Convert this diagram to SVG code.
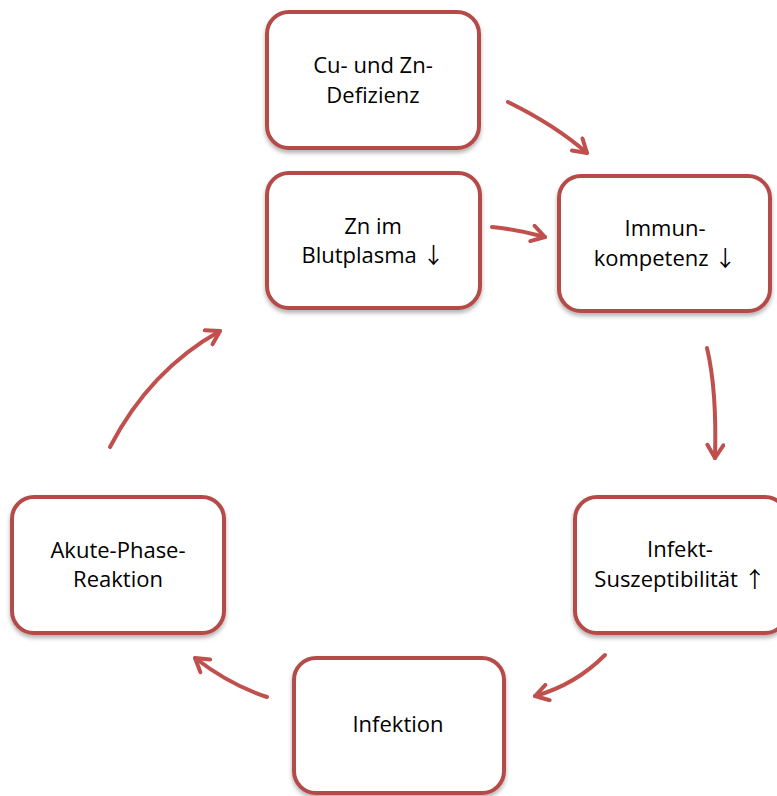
<svg xmlns="http://www.w3.org/2000/svg" width="777" height="796" viewBox="0 0 777 796">
<defs>
<filter id="sh" x="-10%" y="-10%" width="120%" height="125%">
<feDropShadow dx="0" dy="3" stdDeviation="2" flood-color="#000" flood-opacity="0.3"/>
</filter>
<marker id="ah" viewBox="0 0 20 20" refX="17" refY="10" markerWidth="20" markerHeight="20" markerUnits="userSpaceOnUse" orient="auto">
<path d="M4,2 L17,10 L4,18" fill="none" stroke="#C0504D" stroke-width="4" stroke-linecap="round" stroke-linejoin="round"/>
</marker>
</defs>
<style>
.box{fill:#fff;stroke:#B44C49;stroke-width:4;filter:url(#sh)}
.t{font-family:"Open Sans","Liberation Sans",sans-serif;font-size:22px;fill:#000;text-anchor:middle}
.a{font-family:"Noto Sans CJK SC","DejaVu Sans",sans-serif;font-size:22px;fill:#000}
.c{fill:none;stroke:#C0504D;stroke-width:4;stroke-linecap:round;marker-end:url(#ah)}
</style>
<rect width="777" height="796" fill="#fff"/>
<g id="n1"><rect class="box" x="267" y="12" width="212" height="136" rx="22"/>
<text class="t" x="373" y="73">Cu- und Zn-</text><text class="t" x="373" y="103">Defizienz</text></g>
<g id="n2"><rect class="box" x="267" y="173" width="213" height="135" rx="22"/>
<text class="t" x="373" y="234">Zn im</text><text class="t" x="373" y="263">Blutplasma <tspan class="a">↓</tspan></text></g>
<g id="n3"><rect class="box" x="559" y="176" width="211" height="135" rx="22"/>
<text class="t" x="665" y="236">Immun-</text><text class="t" x="665" y="266">kompetenz <tspan class="a">↓</tspan></text></g>
<g id="n4"><rect class="box" x="575" y="497" width="212" height="136" rx="22"/>
<text class="t" x="680" y="557">Infekt-</text><text class="t" x="680" y="587">Suszeptibilität <tspan class="a">↑</tspan></text></g>
<g id="n5"><rect class="box" x="294" y="658" width="210" height="135" rx="22"/>
<text class="t" x="398" y="732">Infektion</text></g>
<g id="n6"><rect class="box" x="12" y="497" width="212" height="136" rx="22"/>
<text class="t" x="118" y="558">Akute-Phase-</text><text class="t" x="118" y="587">Reaktion</text></g>
<g id="connectors">
<path class="c" d="M508,102 Q555,125 587,153"/>
<path class="c" d="M492,227 Q520,230 545,237"/>
<path class="c" d="M707,348 Q717,390 715,458"/>
<path class="c" d="M605,655 Q575,685 535,696"/>
<path class="c" d="M267,697 Q230,685 195,658"/>
<path class="c" d="M110,447 Q150,370 220,331"/>
</g>
</svg>
